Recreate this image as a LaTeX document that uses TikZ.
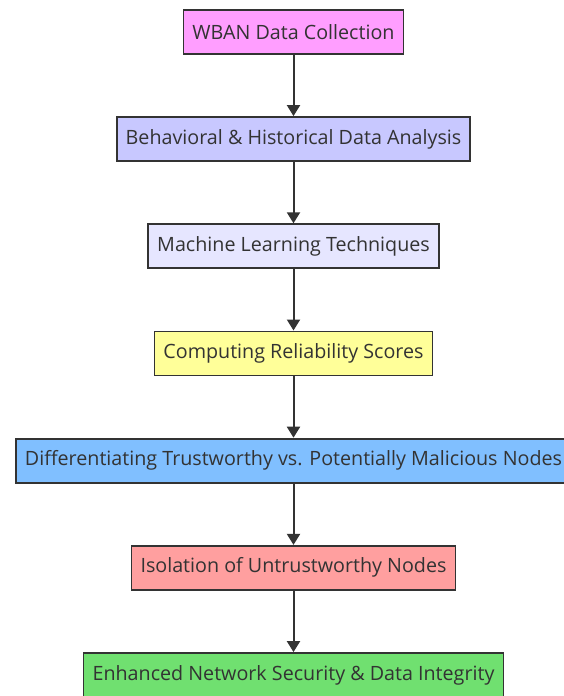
\documentclass[tikz,border=0pt]{standalone}
\usepackage{fontspec}
\setmainfont{Open Sans}
\usetikzlibrary{arrows.meta,positioning}
\definecolor{collect}{HTML}{FF9EFF}
\definecolor{analyse}{HTML}{C8C8FF}
\definecolor{learn}{HTML}{E6E6FF}
\definecolor{score}{HTML}{FFFF99}
\definecolor{split}{HTML}{80BFFF}
\definecolor{isolate}{HTML}{FF9F9F}
\definecolor{secure}{HTML}{70E070}
\definecolor{edge}{HTML}{333333}

\begin{document}
\begin{tikzpicture}[x=1pt,y=-1pt,
  stage/.style={draw=edge,line width=1.8pt,minimum height=44pt,inner xsep=9pt,
    font=\fontsize{19.7}{23}\selectfont,text=edge},
  flow/.style={edge,line width=2pt,-{Triangle[length=11pt,width=13pt]}},
  node distance=61.4pt]
  \useasboundingbox (0,0) rectangle (563,696);
  \fill[white] (0,0) rectangle (563,696);

  % Steps
  \node[stage,fill=collect] (wban) at (293.5,31.8) {WBAN Data Collection};
  \node[stage,fill=analyse,below=of wban] (analysis) {Behavioral \& Historical Data Analysis};
  \node[stage,fill=learn,below=of analysis] (ml) {Machine Learning Techniques};
  \node[stage,fill=score,below=of ml] (scores) {Computing Reliability Scores};
  \node[stage,fill=split,below=of scores] (trust) {Differentiating Trustworthy vs. Potentially Malicious Nodes};
  \node[stage,fill=isolate,below=of trust] (isolation) {Isolation of Untrustworthy Nodes};
  \node[stage,fill=secure,below=of isolation] (security) {Enhanced Network Security \& Data Integrity};

  % Arrows
  \draw[flow] (wban) -- (analysis);
  \draw[flow] (analysis) -- (ml);
  \draw[flow] (ml) -- (scores);
  \draw[flow] (scores) -- (trust);
  \draw[flow] (trust) -- (isolation);
  \draw[flow] (isolation) -- (security);
\end{tikzpicture}
\end{document}
